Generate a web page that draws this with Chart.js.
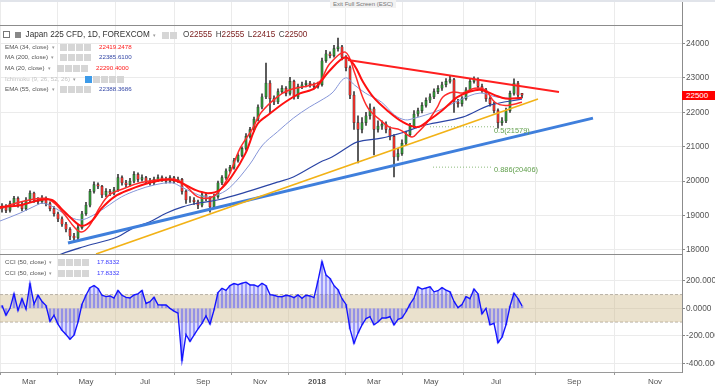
<!DOCTYPE html>
<html>
<head>
<meta charset="utf-8">
<script src="https://cdn.jsdelivr.net/npm/chart.js@4.4.1/dist/chart.umd.min.js"></script>
<style>
  html, body { margin: 0; padding: 0; background: #fff; }
  body { width: 715px; height: 389px; position: relative; overflow: hidden; font-family: "Liberation Sans", Arial, sans-serif; }
  canvas { position: absolute; left: 0; }
  #price { top: 0; }
  #cci { top: 254px; }
  .topbar { position: absolute; left: 0; top: 0; width: 715px; height: 2px; background: #e1e4ea; }
  .exit { position: absolute; left: 330px; top: 0; padding: 0 3px; height: 8px; line-height: 8px; font-size: 6px; color: #777; background: #f2f2f2; }
  .hline { position: absolute; left: 0; width: 682px; height: 1px; background: #8c8c8c; }
  .row { position: absolute; height: 10px; line-height: 10px; white-space: nowrap; }
  .lbl { position: absolute; left: 5px; font-size: 6.2px; color: #555; }
  .caret { font-size: 5px; color: #999; margin-left: 3px; }
  .btns { position: absolute; top: 2px; }
  .btns i { display: inline-block; width: 6.5px; height: 6.5px; margin-right: 1.6px; background: #d6d6d6; vertical-align: top; }
  .btns i.on { background: #3d9be9; }
  .val { position: absolute; font-size: 6.2px; }
  .title { font-size: 8.2px; color: #333; }
  .ohlc b { font-weight: normal; color: #444; }
  .ohlc span { color: #7a1c1c; margin-right: 3.5px; }
  .fib { position: absolute; font-size: 7.4px; color: #5f9e4a; }
  .last { position: absolute; left: 682px; top: 91px; width: 33px; height: 9px; line-height: 9px; background: #ff0000; color: #fff; font-size: 8px; text-align: left; padding-left: 4px; box-sizing: border-box; }
</style>
</head>
<body>
<canvas id="price" width="715" height="254"></canvas>
<canvas id="cci" width="715" height="135"></canvas>

<div class="topbar"></div>
<div class="exit">Exit Full Screen (ESC)</div>
<div class="hline" style="top:25px"></div>
<div class="hline" style="top:254px"></div>

<div class="row title" style="top:30px;left:3px">
  <span style="display:inline-block;width:5px;height:5px;border:1px solid #777;vertical-align:middle"></span>
  <span style="display:inline-block;width:6px;height:6px;background:#888;margin-left:3px;vertical-align:middle"></span>
  <span style="margin-left:2px">Japan 225 CFD, 1D, FOREXCOM</span><span class="caret">▾</span>
</div>
<div class="btns" style="left:162px;top:32px"><i></i><i></i></div>
<div class="row title ohlc" style="top:30px;left:183px"><b>O</b><span>22555</span><b>H</b><span>22555</span><b>L</b><span>22415</span><b>C</b><span>22500</span></div>

<div class="row" style="top:42px;width:140px"><span class="lbl">EMA (34, close)<span class="caret">▾</span></span><div class="btns" style="left:60px"><i></i><i></i><i></i><i></i></div><span class="val" style="left:99px;color:#ff1a1a">22419.2478</span></div>
<div class="row" style="top:52px;width:140px"><span class="lbl">MA (200, close)<span class="caret">▾</span></span><div class="btns" style="left:60px"><i></i><i></i><i></i><i></i></div><span class="val" style="left:99px;color:#3447a6">22385.6100</span></div>
<div class="row" style="top:63px;width:140px"><span class="lbl">MA (20, close)<span class="caret">▾</span></span><div class="btns" style="left:57px"><i></i><i></i><i></i><i></i></div><span class="val" style="left:96px;color:#ff1a1a">22290.4000</span></div>
<div class="row" style="top:74px;width:140px"><span class="lbl" style="color:#c4c4c4">Ichimoku (9, 26, 52, 26)<span class="caret">▾</span></span><div class="btns" style="left:85px"><i class="on"></i><i></i><i></i><i></i><i></i></div></div>
<div class="row" style="top:84px;width:140px"><span class="lbl">EMA (55, close)<span class="caret">▾</span></span><div class="btns" style="left:60px"><i></i><i></i><i></i><i></i></div><span class="val" style="left:99px;color:#3447a6">22388.3686</span></div>

<div class="row" style="top:257px;width:140px"><span class="lbl">CCI (50, close)<span class="caret">▾</span></span><div class="btns" style="left:58px"><i></i><i></i><i></i><i></i></div><span class="val" style="left:97px;color:#3535ff">17.8332</span></div>
<div class="row" style="top:268px;width:140px"><span class="lbl">CCI (50, close)<span class="caret">▾</span></span><div class="btns" style="left:58px"><i></i><i></i><i></i><i></i></div><span class="val" style="left:97px;color:#3535ff">17.8332</span></div>

<div class="fib" style="left:494px;top:126px">0.5(21579)</div>
<div class="fib" style="left:494px;top:165px">0.886(20406)</div>
<div class="last">22500</div>

<script>
// x axis is in trading days; every candle below stands for 3 sessions
const BAR_STEP = 3;
const X_MAX = 511.5;
const MONTH_POS = [21.75, 64.5, 108.75, 152.25, 195, 237.75, 280.5, 323.25, 372, 430.5, 491.25];
const MONTH_LABELS = ['Mar', 'May', 'Jul', 'Sep', 'Nov', '2018', 'Mar', 'May', 'Jul', 'Sep', 'Nov'];
const PRICE_TICKS = [18000, 19000, 20000, 21000, 22000, 23000, 24000];
const CCI_TICKS = [200, 0, -200, -400];

const OPENS = [
  19200,19250,19150,19350,19500,19300,19200,19450,19650,19450,
  19400,19500,19350,19200,19050,18900,18750,18600,18400,18350,
  18650,19050,19300,19700,19900,19850,19600,19700,19650,19750,
  20100,19950,19900,20000,20200,20050,20100,20000,19950,20050,
  20100,20050,20000,20100,20000,20050,19700,19450,19450,19400,
  19300,19600,19500,19250,19550,19950,20100,20300,20400,20600,
  20750,20950,21300,21500,21800,22150,22450,22850,22400,22300,
  22600,22700,22550,22900,22450,22750,22800,22850,22800,22750,
  22800,23500,23700,23650,23850,23900,23600,23300,22500,21700,
  21500,21700,21900,22100,21500,21600,21650,21500,21300,20700,
  20800,21100,21350,21600,21950,22050,22200,22350,22450,22600,
  22700,22800,22900,22950,22300,22250,22400,22650,22900,22950,
  22750,22650,22400,22250,22050,21700,21750,22050,22550,22850,
  22555
];
const HIGHS = [
  19350,19320,19420,19560,19540,19380,19520,19720,19680,19520,
  19580,19540,19400,19260,19100,18960,18800,18650,18480,18720,
  19120,19380,19760,19980,19950,19880,19780,19760,19820,20200,
  20150,20020,20080,20280,20240,20180,20140,20080,20120,20180,
  20150,20120,20160,20140,20120,20080,19750,19550,19520,19450,
  19680,19650,19560,19620,20000,20160,20360,20460,20660,20800,
  21000,21380,21560,21860,22220,22540,23430,22920,22480,22680,
  22780,22750,23020,22940,22820,22880,22920,22900,22860,22880,
  23580,23800,23760,23950,24160,23950,23650,23350,22600,21900,
  21850,22000,22250,22150,21750,21750,21720,21580,21350,20950,
  21200,21450,21680,22050,22120,22280,22420,22540,22680,22780,
  22880,22980,23050,22990,22380,22460,22720,22980,23030,23000,
  22820,22700,22460,22300,22100,21850,22120,22620,22970,22900,
  22555
];
const LOWS = [
  19100,19080,19100,19280,19240,19130,19150,19400,19380,19330,
  19350,19280,19130,18980,18820,18680,18520,18300,18230,18300,
  18600,19000,19250,19650,19780,19520,19550,19580,19600,19700,
  19880,19820,19850,19950,19980,20000,19930,19880,19900,19990,
  19990,19940,19950,19940,19960,19620,19350,19380,19320,19200,
  19250,19430,19100,19200,19500,19900,20050,20250,20350,20550,
  20700,20900,21250,21450,21750,22100,22400,21980,22220,22250,
  22540,22480,22500,22380,22400,22690,22740,22730,22680,22700,
  22760,23450,23580,23600,23780,23520,23200,22400,21500,20530,
  21400,21620,21800,20760,21420,21500,21400,21200,20120,20600,
  20750,21050,21300,21550,21880,21980,22150,22280,22400,22540,
  22640,22740,22850,22000,22150,22180,22350,22600,22850,22700,
  22580,22320,22180,21980,21540,21620,21700,22000,22500,22430,
  22415
];
const CLOSES = [
  19250,19150,19350,19500,19300,19200,19450,19650,19450,19400,
  19500,19350,19200,19050,18900,18750,18600,18400,18350,18650,
  19050,19300,19700,19900,19850,19600,19700,19650,19750,20100,
  19950,19900,20000,20200,20050,20100,20000,19950,20050,20100,
  20050,20000,20100,20000,20050,19700,19450,19450,19400,19300,
  19600,19500,19250,19550,19950,20100,20300,20400,20600,20750,
  20950,21300,21500,21800,22150,22450,22850,22400,22300,22600,
  22700,22550,22900,22450,22750,22800,22850,22800,22750,22800,
  23500,23700,23650,23850,23900,23600,23300,22500,21700,21500,
  21700,21900,22100,21500,21600,21650,21500,21300,20700,20800,
  21100,21350,21600,21950,22050,22200,22350,22450,22600,22700,
  22800,22900,22950,22300,22250,22400,22650,22900,22950,22750,
  22650,22400,22250,22050,21700,21750,22050,22550,22850,22500,
  22500
];
const CCI = [
  20,-50,0,105,-15,70,-5,180,30,95,
  50,20,-95,-50,-115,-160,-190,-225,-195,-100,
  30,95,150,165,145,95,85,90,75,130,
  95,80,75,97,105,130,35,48,80,25,
  24,24,0,-20,-35,-380,-190,-240,-194,-150,
  -110,-55,-115,-12,115,145,130,165,180,172,
  182,190,170,170,158,182,165,100,95,85,
  84,95,90,78,97,73,95,90,78,200,
  339,242,218,165,135,70,28,-150,-255,-180,
  -120,-75,-61,-120,-100,-70,-70,-61,-120,-80,
  -70,-25,30,75,155,140,148,157,120,128,
  150,133,120,50,5,28,85,70,140,105,
  -40,0,-120,-109,-250,-210,-120,15,110,70,
  18
];

// moving averages: [trading day, value]
const EMA34 = [[0,19250],[15,19300],[30,19450],[39,19450],[46,19200],[54,18900],[61,18700],[69,18850],[76,19200],[86,19550],[97,19750],[112,19950],[127,20050],[136,19950],[146,19750],[156,19650],[165,19750],[174,20150],[184,20800],[193,21650],[202,21950],[214,22300],[225,22550],[236,22700],[247,23200],[259,23600],[266,23350],[272,22900],[280,22440],[290,22070],[302,21720],[313,21570],[322,21780],[332,22070],[343,22440],[352,22600],[361,22650],[371,22500],[379,22400],[391.5,22420]];
const MA20 = [[0,19200],[11,19350],[22,19450],[34,19500],[41,19350],[49,19000],[56,18650],[61,18520],[67,18700],[75,19250],[82,19600],[94,19800],[105,19950],[120,20050],[133,20030],[141,19800],[148,19550],[156,19500],[163,19650],[171,20100],[180,20950],[189,21500],[196,22000],[208,22450],[217,22650],[232,22780],[240,22900],[247,23400],[259,23750],[266,23140],[272,22440],[277,22070],[285,21780],[292,21570],[300,21490],[309,21280],[313,21400],[320,21690],[328,22150],[332,22440],[340,22590],[347,22560],[356,22700],[364,22650],[371,22300],[379,22200],[391.5,22290]];
const EMA55 = [[0,18840],[15,19070],[28,19310],[32,19360],[40,19250],[50,19010],[60,18870],[70,19010],[82,19310],[91,19540],[103,19740],[116,19890],[129,19950],[136,19830],[144,19680],[154,19540],[161,19570],[172,19800],[187,20470],[197,21050],[208,21430],[220,21830],[232,22150],[240,22330],[249,22560],[259,23000],[266,22790],[274,22560],[286,22300],[296,21920],[304,21780],[311,21830],[319,21920],[330,22070],[345,22360],[360,22560],[373,22440],[391.5,22390]];
const MA200 = [[30,17600],[46,17880],[62,18085],[88,18375],[100,18640],[112,18810],[125,19075],[137,19250],[150,19370],[163,19450],[182,19650],[208,19970],[220,20120],[240,20550],[249,20700],[261,20990],[268,21140],[286,21250],[301,21400],[319,21630],[347,21860],[367,22200],[391.5,22385]];

// drawn trend lines and fib levels: [trading day, price]
const RESIST_LINE = [[261,23520],[419.25,22590]];
const ORANGE_LINE = [[72,17880],[403.5,22390]];
const BLUE_LINE = [[51,18200],[444.75,21830]];
const FIB_50 = [[322.5,21579],[370.5,21579]];
const FIB_886 = [[324.75,20406],[369,20406]];
const CCI_BAND = [100, -100];

const FONT = 'Liberation Sans, Arial, sans-serif';
const candleX = (i) => 1.5 + BAR_STEP * i;
const pts = (arr) => arr.map(([x, y]) => ({ x, y }));

function lineSet(data, color, width, order, extra) {
  return Object.assign({
    type: 'line', data: pts(data), borderColor: color, borderWidth: width,
    pointRadius: 0, tension: 0.35, fill: false, order,
  }, extra || {});
}

function monthAxis(showLabels) {
  return {
    type: 'linear', min: 0, max: X_MAX, offset: false,
    afterBuildTicks: (s) => { s.ticks = MONTH_POS.map((v) => ({ value: v })); },
    afterFit: (s) => {
      s.height = showLabels ? 17 : 0;
      s.paddingLeft = 0; s.paddingRight = 0;
    },
    grid: { color: '#ebebeb', drawTicks: showLabels, tickLength: 3, tickColor: '#999' },
    border: { display: showLabels, color: '#9a9a9a' },
    ticks: {
      display: showLabels, padding: 2, color: '#555', maxRotation: 0, autoSkip: false,
      callback: (v, i) => MONTH_LABELS[i],
      font: (ctx) => ({ family: FONT, size: 8, weight: ctx.index === 5 ? 'bold' : 'normal' }),
    },
  };
}

function valueAxis(min, max, ticks, fmt) {
  return {
    position: 'right', min, max,
    afterBuildTicks: (s) => { s.ticks = ticks.map((v) => ({ value: v })); },
    afterFit: (s) => { s.width = 33; s.paddingTop = 0; s.paddingBottom = 0; },
    grid: { color: '#ebebeb', tickLength: 3, tickColor: '#888' },
    border: { color: '#8c8c8c' },
    ticks: { padding: 1, color: '#555', font: { family: FONT, size: 8.3 }, callback: fmt },
  };
}

function renderPrice() {
  const up = CLOSES.map((c, i) => c >= OPENS[i]);
  new Chart(document.getElementById('price'), {
    type: 'bar',
    data: {
      datasets: [
        lineSet(FIB_886, '#8dbb7c', 1, 4, { borderDash: [1, 2], tension: 0 }),
        lineSet(FIB_50, '#8dbb7c', 1, 4, { borderDash: [1, 2], tension: 0 }),
        lineSet(RESIST_LINE, '#ff1f1f', 2, 1, { tension: 0 }),
        lineSet(ORANGE_LINE, '#f2b216', 1.6, 2, { tension: 0 }),
        lineSet(BLUE_LINE, '#3f7fdc', 3, 3, { tension: 0 }),
        lineSet(EMA34, '#ff1010', 2, 5),
        lineSet(MA20, '#ff2a2a', 1.5, 6),
        lineSet(EMA55, '#8595d8', 1, 7),
        lineSet(MA200, '#2b45a5', 1.2, 8),
        {
          type: 'bar', order: 9, grouped: false, barThickness: 2.4,
          data: CLOSES.map((c, i) => ({ x: candleX(i), y: [OPENS[i], c] })),
          backgroundColor: up.map((u) => (u ? '#2f8a33' : '#e0302b')),
          borderColor: '#2a2a2a', borderWidth: 0.5, borderSkipped: false,
        },
        {
          type: 'bar', order: 10, grouped: false, barThickness: 1,
          data: CLOSES.map((c, i) => ({ x: candleX(i), y: [LOWS[i], HIGHS[i]] })),
          backgroundColor: '#3a3a3a',
        },
      ],
    },
    options: {
      responsive: false, animation: false, events: [],
      layout: { padding: 0 },
      plugins: { legend: { display: false }, tooltip: { enabled: false } },
      scales: {
        x: monthAxis(false),
        y: valueAxis(17881, 25265, PRICE_TICKS, (v) => String(v)),
      },
    },
  });
}

function renderCci() {
  const xs = CCI.map((v, i) => candleX(i));
  new Chart(document.getElementById('cci'), {
    type: 'bar',
    data: {
      datasets: [
        lineSet(xs.map((x, i) => [x, CCI[i]]), '#1414ff', 1.4, 1, { tension: 0 }),
        {
          type: 'bar', order: 2, grouped: false, barThickness: 2,
          data: xs.map((x, i) => ({ x, y: CCI[i] })),
          backgroundColor: 'rgba(95,95,245,0.62)',
        },
        lineSet([[0, CCI_BAND[0]], [X_MAX, CCI_BAND[0]]], '#b9b2a6', 1, 3,
          { tension: 0, borderDash: [3, 2], fill: '+1', backgroundColor: 'rgba(205,183,135,0.42)' }),
        lineSet([[0, CCI_BAND[1]], [X_MAX, CCI_BAND[1]]], '#b9b2a6', 1, 4,
          { tension: 0, borderDash: [3, 2] }),
      ],
    },
    options: {
      responsive: false, animation: false, events: [],
      layout: { padding: 0 },
      plugins: { legend: { display: false }, tooltip: { enabled: false } },
      scales: {
        x: monthAxis(true),
        y: valueAxis(-463, 395, CCI_TICKS, (v) => v.toFixed(4)),
      },
    },
  });
}

renderPrice();
renderCci();
</script>
</body>
</html>
